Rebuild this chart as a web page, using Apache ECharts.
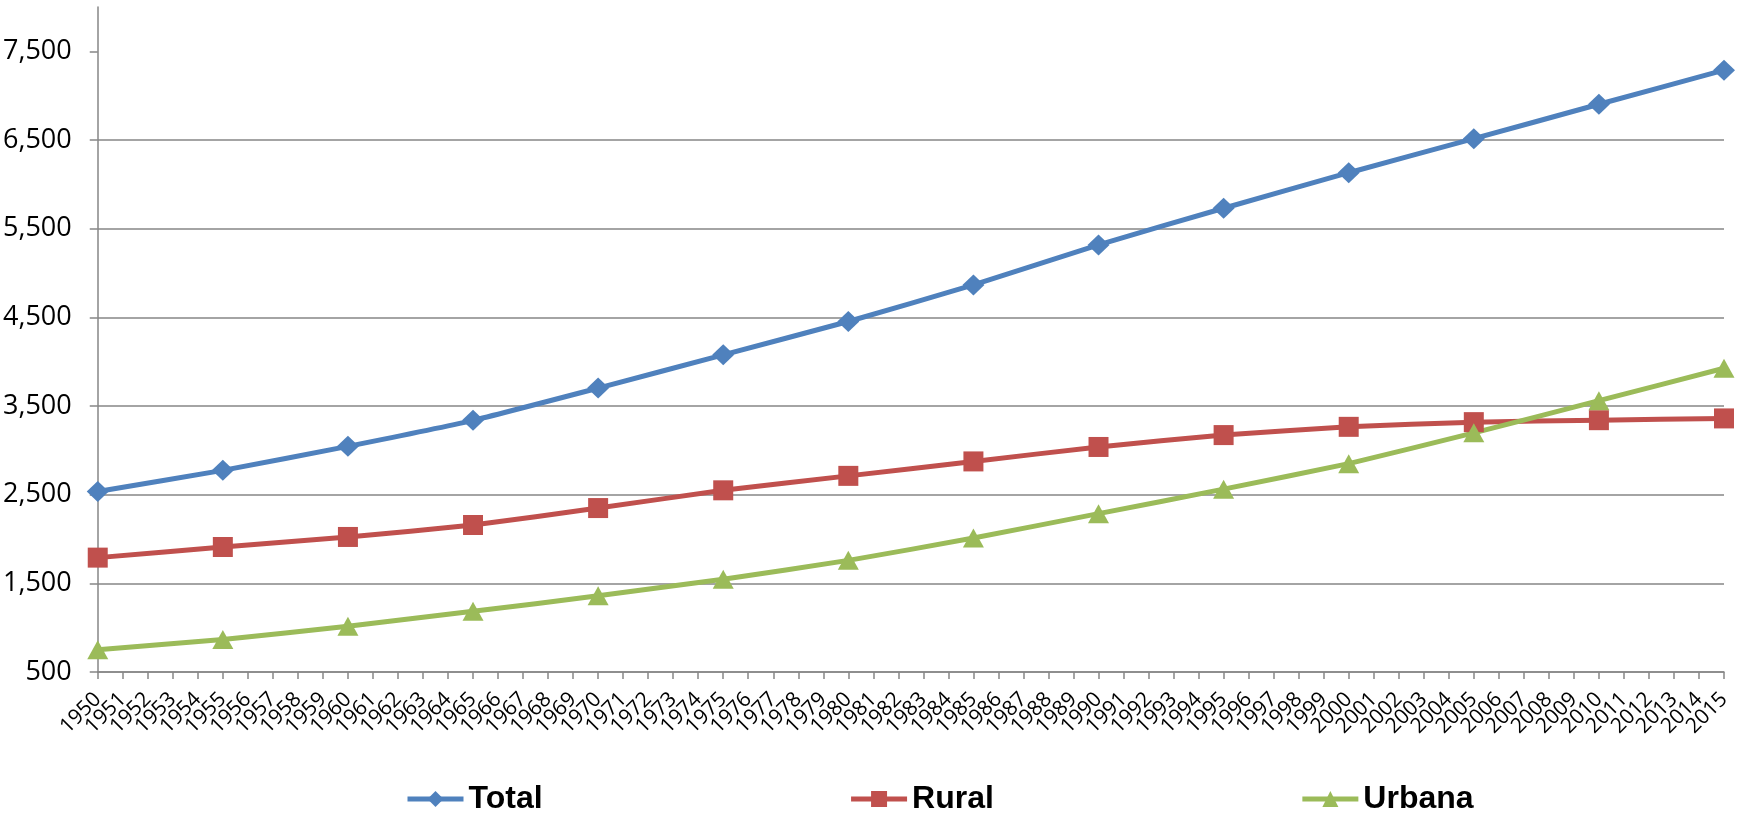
<!DOCTYPE html>
<html>
<head>
<meta charset="utf-8">
<script src="https://cdn.jsdelivr.net/npm/echarts@6/dist/echarts.min.js"></script>
<style>html,body{margin:0;padding:0;background:#fff}#c{width:1742px;height:813px}</style>
</head>
<body>
<div id="c"></div>
<script>
var pointYears = ['1950','1955','1960','1965','1970','1975','1980','1985','1990','1995','2000','2005','2010','2015'];
var totalValues = [2536, 2774, 3045, 3338, 3702, 4077, 4453, 4866, 5317, 5730, 6131, 6515, 6903, 7288];
var ruralValues = [1790, 1910, 2023, 2158, 2349, 2549, 2712, 2875, 3038, 3172, 3265, 3318, 3340, 3360];
var urbanValues = [752, 866, 1017, 1184, 1359, 1547, 1759, 2011, 2286, 2562, 2850, 3197, 3560, 3926];
var yTickValues = [500, 1500, 2500, 3500, 4500, 5500, 6500, 7500];
var seriesNames = ['Total', 'Rural', 'Urbana'];

var categories = [];
for (var y = 1950; y <= 2015; y++) categories.push(String(y));

function pairs(vals) { return pointYears.map(function (yr, i) { return [yr, vals[i]]; }); }

var chart = echarts.init(document.getElementById('c'), null, {renderer: 'canvas'});
var gray = '#868686';
chart.setOption({
  animation: false,
  grid: {left: 97, right: 18, top: 7, bottom: 141, containLabel: false},
  xAxis: {
    type: 'category',
    data: categories,
    boundaryGap: false,
    axisLine: {lineStyle: {color: gray, width: 1.5}},
    axisTick: {show: true, interval: 0, length: 7, lineStyle: {color: gray, width: 1.5}},
    axisLabel: {interval: 0, rotate: 45, margin: 24, color: '#000', fontFamily: 'Open Sans', fontSize: 21},
    splitLine: {show: false}
  },
  yAxis: {
    type: 'value',
    min: 500, max: 8000, interval: 1000,
    axisLine: {show: true, lineStyle: {color: gray, width: 1.5}},
    axisTick: {show: true, length: 8, customValues: yTickValues, lineStyle: {color: gray, width: 1.5}},
    axisLabel: {
      customValues: yTickValues, margin: 26, color: '#000', fontFamily: 'Open Sans', fontSize: 27,
      formatter: function (v) { return v.toLocaleString('en-US'); }
    },
    splitLine: {show: true, showMaxLine: false, lineStyle: {color: gray, width: 1.5}}
  },
  legend: {
    data: seriesNames,
    top: 778, left: 400,
    itemGap: 306,
    itemWidth: 56, itemHeight: 20,
    lineStyle: {width: 5},
    textStyle: {fontFamily: 'Liberation Sans', fontWeight: 'bold', fontSize: 32, color: '#000'}
  },
  series: [
    {name: 'Total', type: 'line', data: pairs(totalValues), smooth: 0.15,
     symbol: 'diamond', symbolSize: [22, 21], color: '#4F81BD',
     lineStyle: {width: 5, color: '#4F81BD'}, itemStyle: {color: '#4F81BD'}},
    {name: 'Rural', type: 'line', data: pairs(ruralValues), smooth: 0.15,
     symbol: 'rect', symbolSize: 20, color: '#C0504D',
     lineStyle: {width: 5, color: '#C0504D'}, itemStyle: {color: '#C0504D'}},
    {name: 'Urbana', type: 'line', data: pairs(urbanValues), smooth: 0.15,
     symbol: 'triangle', symbolSize: [21, 19], color: '#9BBB59',
     lineStyle: {width: 5, color: '#9BBB59'}, itemStyle: {color: '#9BBB59'}}
  ]
});
</script>
</body>
</html>
